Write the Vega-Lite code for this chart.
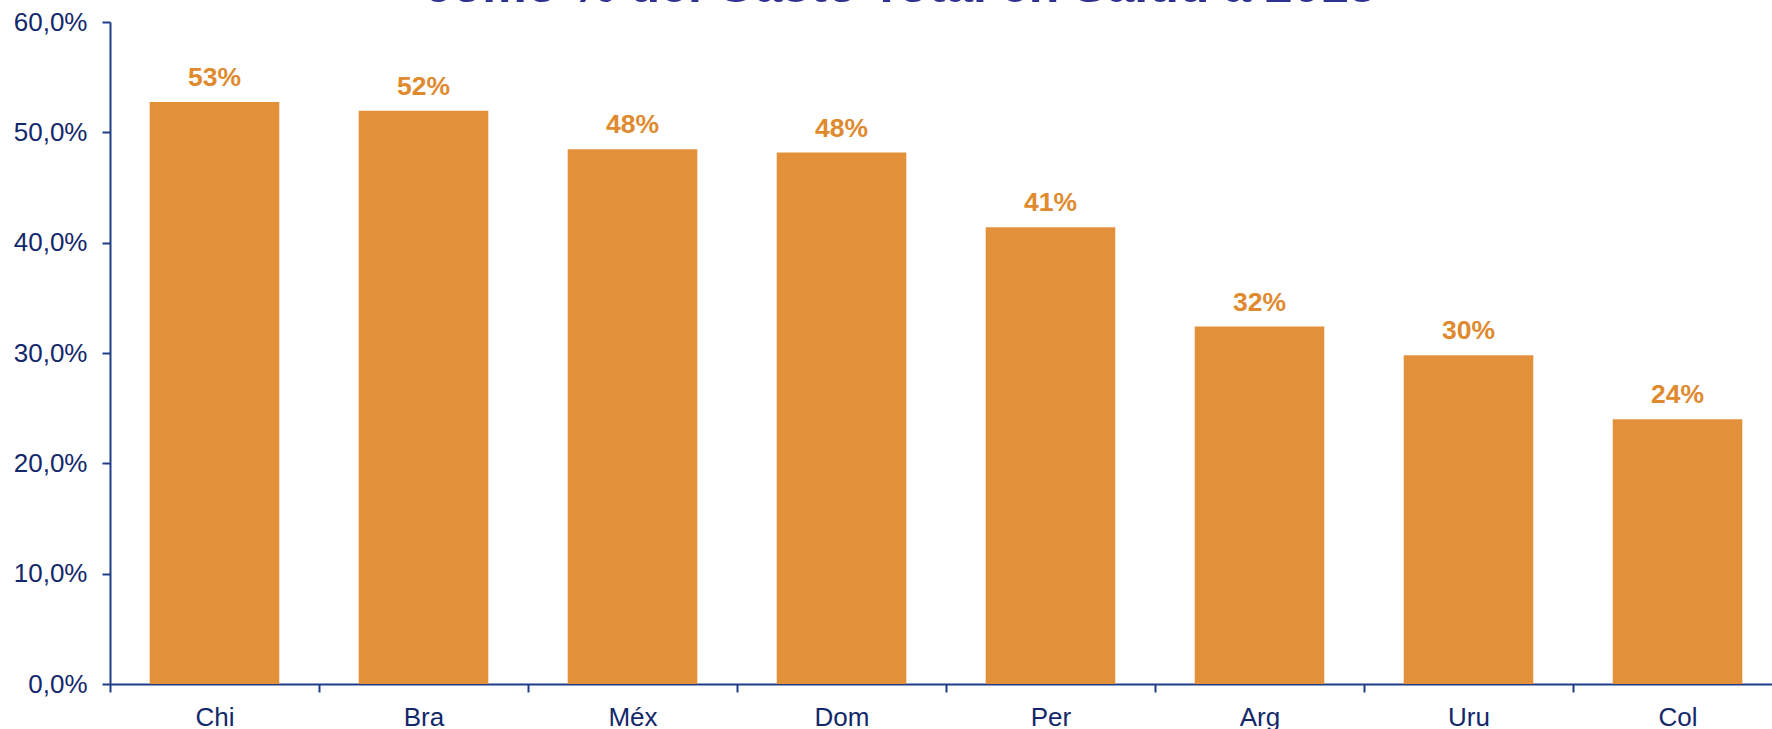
{
  "$schema": "https://vega.github.io/schema/vega-lite/v6.json",
  "autosize": {"type": "none"},
  "padding": {"left": 110, "top": 22, "right": 0, "bottom": 45},
  "width": 1672,
  "height": 662,
  "background": "white",
  "title": {
    "text": "como % del Gasto Total en Salud a 2013",
    "font": "Liberation Sans",
    "fontSize": 50,
    "fontWeight": "bold",
    "color": "#2e3192",
    "anchor": "middle",
    "offset": 0,
    "dx": -46,
    "dy": 3
  },
  "config": {
    "locale": {"number": {"decimal": ",", "thousands": ".", "grouping": [3], "currency": ["", " €"]}},
    "view": {"stroke": null},
    "font": "Liberation Sans"
  },
  "data": {
    "values": [
      {"pais": "Chi", "valor": 0.5275},
      {"pais": "Bra", "valor": 0.5195},
      {"pais": "Méx", "valor": 0.4847},
      {"pais": "Dom", "valor": 0.4817},
      {"pais": "Per", "valor": 0.414},
      {"pais": "Arg", "valor": 0.324},
      {"pais": "Uru", "valor": 0.298},
      {"pais": "Col", "valor": 0.240}
    ]
  },
  "encoding": {
    "x": {
      "field": "pais",
      "type": "nominal",
      "sort": null,
      "scale": {"paddingInner": 0.38, "paddingOuter": 0.19},
      "axis": {
        "title": null,
        "labelAngle": 0,
        "labelFont": "Liberation Sans",
        "labelFontSize": 26,
        "labelColor": "#13286b",
        "labelPadding": 12,
        "tickOffset": -104.5,
        "labelOffset": 104.5,
        "tickSize": 8,
        "tickColor": "#1f3c88",
        "tickWidth": 2,
        "domainColor": "#1f3c88",
        "domainWidth": 2,
        "grid": false
      }
    },
    "y": {
      "field": "valor",
      "type": "quantitative",
      "scale": {"domain": [0, 0.6], "nice": false},
      "axis": {
        "title": null,
        "values": [0, 0.1, 0.2, 0.3, 0.4, 0.5, 0.6],
        "format": ".1%",
        "labelFont": "Liberation Sans",
        "labelFontSize": 26,
        "labelColor": "#13286b",
        "labelPadding": 15,
        "tickSize": 8,
        "tickColor": "#1f3c88",
        "tickWidth": 2,
        "domainColor": "#1f3c88",
        "domainWidth": 2,
        "grid": false
      }
    }
  },
  "layer": [
    {"mark": {"type": "bar", "color": "#e3903b"}},
    {
      "mark": {
        "type": "text",
        "baseline": "alphabetic",
        "dy": -16,
        "font": "Liberation Sans",
        "fontSize": 26.5,
        "fontWeight": "bold",
        "color": "#e08a30"
      },
      "encoding": {"text": {"field": "valor", "type": "quantitative", "format": ".0%"}}
    }
  ]
}
